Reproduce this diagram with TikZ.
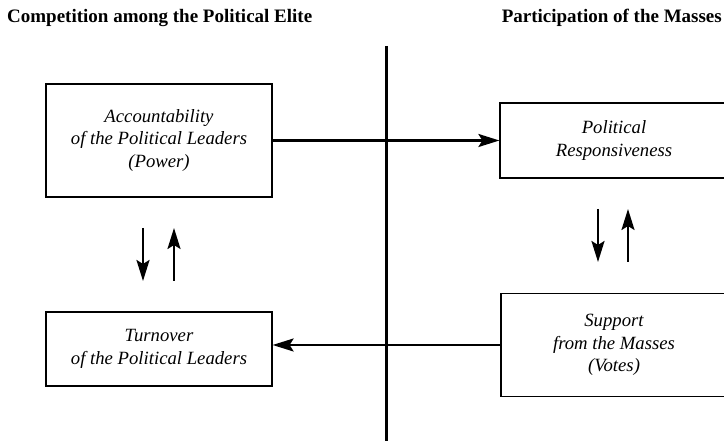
\documentclass[tikz,border=0pt]{standalone}
\usepackage{fontspec}
\setmainfont{Liberation Serif}
\usetikzlibrary{arrows.meta}
\begin{document}
\begin{tikzpicture}[x=1pt,y=1pt,
  box/.style={draw=black,line width=1.2pt,align=center,inner sep=0pt,
    font=\fontsize{18.7}{22.8}\selectfont\itshape},
  title/.style={font=\fontsize{19}{22}\selectfont\bfseries,inner sep=0pt},
  conn/.style={line width=2.4pt,-{Stealth[length=21pt,width=13pt,inset=4pt]}}]
\useasboundingbox (0,0) rectangle (724,441);
\clip (0,0) rectangle (724,441);
% titles
\node[title,anchor=base west] (t1) at (7,418) {Competition among the Political Elite};
\node[title,anchor=base east] (t2) at (722,418) {Participation of the Masses};
% divider
\coordinate (dtop) at (386,395);
\coordinate (dbot) at (386,-2);
\draw[line width=3pt] (dtop) -- (dbot);
% boxes
\node[box,minimum width=226pt,minimum height=113pt] (lt) at (159,300.5)
  {Accountability\\of the Political Leaders\\(Power)};
\node[box,minimum width=226pt,minimum height=74pt] (lb) at (159,92)
  {Turnover\\of the Political Leaders};
\node[box,minimum width=228pt,minimum height=75pt] (rt) at (614,300.5)
  {Political\\Responsiveness};
\node[box,minimum width=226pt,minimum height=103pt] (rb) at (614,96)
  {Support\\from the Masses\\(Votes)};
% horizontal arrows
\draw[conn] (lt.east) -- (lt.east -| rt.west);
\draw[conn] (rb.west) -- (rb.west -| lb.east);
% vertical arrows left
\coordinate (la1) at (143,213);
\coordinate (la2) at (143,160);
\coordinate (la3) at (174,160);
\coordinate (la4) at (174,213);
\draw[conn] (la1) -- (la2);
\draw[conn] (la3) -- (la4);
% vertical arrows right
\coordinate (ra1) at (598,232);
\coordinate (ra2) at (598,179);
\coordinate (ra3) at (628,179);
\coordinate (ra4) at (628,232);
\draw[conn] (ra1) -- (ra2);
\draw[conn] (ra3) -- (ra4);
\end{tikzpicture}
\end{document}
